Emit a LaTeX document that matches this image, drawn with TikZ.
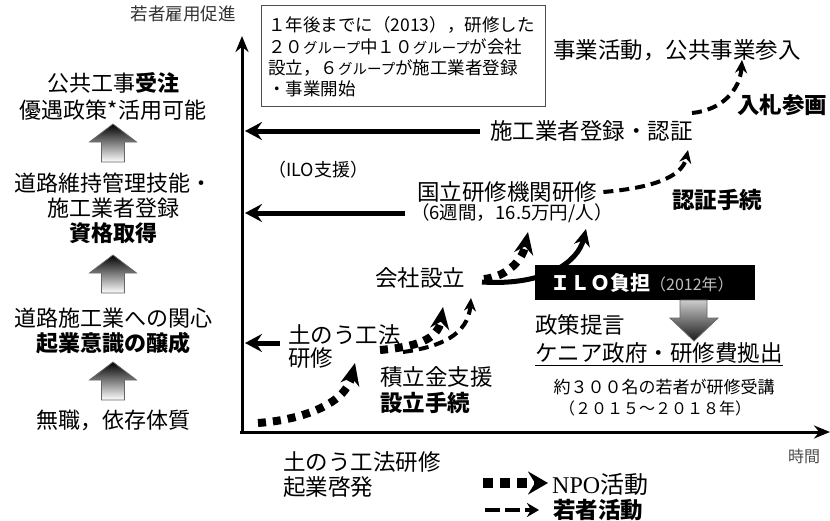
\documentclass[tikz,border=0pt]{standalone}
\usepackage{fontspec}
\setmainfont{Noto Sans CJK JP}
\newfontfamily\timesf{Liberation Serif}
\usetikzlibrary{arrows.meta}
\newcommand\grpk{{\fontsize{14.5}{17}\selectfont グループ}}
\newcommand\blkup[2]{%
  \shade[top color=black, bottom color=white, draw=black!60, line width=0.8pt]
    (#1,#2) -- ++(23.5,18) -- ++(-12,0) -- ++(0,20) -- ++(-23,0) -- ++(0,-20) -- ++(-12,0) -- cycle;}
\tikzset{
  txt/.style={inner sep=0pt, anchor=west, font=\fontsize{22.5}{26}\selectfont},
  lcol/.style={inner sep=0pt, font=\fontsize{22}{26}\selectfont},
  small/.style={inner sep=0pt, anchor=west, font=\fontsize{17.5}{20}\selectfont},
  thickarrow/.style={line width=5pt, -{Stealth[length=17pt,width=18pt,inset=6pt]}},
  npo/.style={line width=8pt, dash pattern=on 8pt off 7pt, -{Stealth[length=22pt,width=19pt]}},
  young/.style={line width=4pt, dash pattern=on 10pt off 6pt, -{Stealth[length=13pt,width=12pt]}},
  axis/.style={line width=3pt, -{Stealth[length=16pt,width=13pt]}},
}
\begin{document}
\begin{tikzpicture}[x=1pt,y=-1pt]
\useasboundingbox (0,0) rectangle (830,520);

% axes
\coordinate (yaxB) at (242,434);
\coordinate (yaxT) at (242,36);
\coordinate (xaxL) at (240,432);
\coordinate (xaxR) at (830,432);
\draw[axis] (yaxB) -- (yaxT);
\draw[axis] (xaxL) -- (xaxR);
\node[inner sep=0pt, anchor=east, text=black!80, font=\fontsize{17.5}{20}\selectfont] (ylab) at (236,14) {若者雇用促進};
\node[inner sep=0pt, anchor=west, text=black!70, font=\fontsize{16}{19}\selectfont] (xlab) at (788,456) {時間};

% left column
\node[lcol] (l1) at (113,83) {公共工事\textbf{受注}};
\node[lcol] (l2) at (113,110) {優遇政策*活用可能};
\blkup{113}{124}
\node[lcol] (l3) at (113,183) {道路維持管理技能・};
\node[lcol] (l4) at (113,208) {施工業者登録};
\node[lcol] (l5) at (113,233) {\textbf{資格取得}};
\blkup{113}{255}
\node[lcol] (l6) at (113,318) {道路施工業への関心};
\node[lcol] (l7) at (113,343) {\textbf{起業意識の醸成}};
\blkup{113}{362}
\node[lcol] (l8) at (113,420) {無職，依存体質};

% note box
\node[draw=black!70, line width=1pt, minimum width=284pt, minimum height=101pt, anchor=north west, inner sep=0pt] (note) at (261,5) {};
\node[small] (n1) at (268,25) {１年後までに（2013），研修した};
\node[small] (n2) at (268,47) {２０\grpk 中１０\grpk が会社};
\node[small] (n3) at (268,68) {設立，６\grpk が施工業者登録};
\node[small] (n4) at (268,89) {・事業開始};

% right texts
\node[txt] (jigyou) at (553,50) {事業活動，公共事業参入};
\node[txt] (nyusatsu) at (737,105) {\textbf{入札参画}};
\node[txt] (sekou) at (490,131) {施工業者登録・認証};
\node[small, font=\fontsize{18}{21}\selectfont] (ilosup) at (268,170) {（ILO支援）};
\node[txt] (kokuritsu) at (417,192) {国立研修機関研修};
\node[small, font=\fontsize{18.5}{21}\selectfont] (rokushu) at (411,213) {（6週間，16.5万円/人）};
\node[txt] (ninsho) at (672,200) {\textbf{認証手続}};
\node[txt] (kaisha) at (375,278) {会社設立};
\node[txt] (donou1) at (288,335) {土のう工法};
\node[txt] (donou2) at (288,358) {研修};
\node[txt] (tsumitate) at (380,377) {積立金支援};
\node[txt] (setsu) at (380,403) {\textbf{設立手続}};
\node[txt] (seisaku) at (535,325) {政策提言};
\node[txt] (kenia) at (535,353) {ケニア政府・研修費拠出};
\draw[line width=1.2pt] ([yshift=-2pt]kenia.south west) -- ([yshift=-2pt]kenia.south east);
\node[inner sep=0pt, font=\fontsize{17}{20}\selectfont] (yaku) at (664,387) {約３００名の若者が研修受講};
\node[inner sep=0pt, font=\fontsize{16}{19}\selectfont] (period) at (655,408) {（２０１５～２０１８年）};

% horizontal arrows to the axis
\coordinate (a1) at (245,131);
\coordinate (a2) at (245,213);
\coordinate (a3s) at (280,343);
\coordinate (a3) at (245,343);
\draw[thickarrow] ([xshift=-10pt]sekou.west) -- (a1);
\draw[thickarrow] ([xshift=-6pt]rokushu.west) -- (a2);
\draw[thickarrow] (a3s) -- (a3);

% curves
\coordinate (c1s) at (258,423); \coordinate (c1e) at (355,363);
\coordinate (c2s) at (380,350); \coordinate (c2e) at (443,307);
\coordinate (c3s) at (403,352); \coordinate (c3e) at (471,298);
\coordinate (c4s) at (484,279); \coordinate (c4e) at (528,232);
\coordinate (c5s) at (482,282); \coordinate (c5e) at (586,229);
\coordinate (c6e) at (688,150);
\coordinate (c7s) at (692,113); \coordinate (c7e) at (742,60);
\draw[npo] (c1s) .. controls (300,420) and (345,405) .. (c1e);
\draw[npo] (c2s) .. controls (415,347) and (438,340) .. (c2e);
\draw[young] (c3s) .. controls (440,347) and (468,335) .. (c3e);
\draw[npo] (c4s) .. controls (505,277) and (522,262) .. (c4e);
\draw[line width=5pt, -{Stealth[length=17pt,width=16pt]}] (c5s) .. controls (545,286) and (578,262) .. (c5e);
\draw[young] ([xshift=6pt]kokuritsu.east) .. controls (650,188) and (682,178) .. (c6e);
\draw[young] (c7s) .. controls (722,110) and (740,90) .. (c7e);

% ILO box
\node[fill=black, minimum width=220pt, minimum height=35pt, anchor=north west, inner sep=0pt] (ilobox) at (535,265) {};
\node[anchor=west, inner sep=0pt, text=white, font=\fontsize{20}{24}\selectfont\bfseries] (ilotxt) at (550,283) {ＩＬＯ負担\textcolor{black!25}{\mdseries\fontsize{16}{19}\selectfont（2012年）}};
\shade[top color=black!20, bottom color=black!90, draw=black!60, line width=0.8pt]
  (680,300) -- (707,300) -- (707,318) -- (718,318) -- (694,341) -- (670,318) -- (680,318) -- cycle;

% bottom texts and legend
\node[txt] (bt1) at (283,462) {土のう工法研修};
\node[txt] (bt2) at (283,487) {起業啓発};
\coordinate (lg1s) at (483,483); \coordinate (lg1e) at (548,483);
\coordinate (lg2s) at (485,510); \coordinate (lg2e) at (539,510);
\draw[line width=10pt, dash pattern=on 10pt off 7pt, -{Stealth[length=20pt,width=23pt,inset=7pt]}] (lg1s) -- (lg1e);
\draw[line width=4pt, dash pattern=on 15pt off 5pt, -{Stealth[length=12pt,width=14pt]}] (lg2s) -- (lg2e);
\node[inner sep=0pt, anchor=west, font=\fontsize{24}{27}\selectfont] (npotxt) at (552,484) {{\timesf NPO}活動};
\node[txt] (youngtxt) at (553,510) {\textbf{若者活動}};
\end{tikzpicture}
\end{document}
